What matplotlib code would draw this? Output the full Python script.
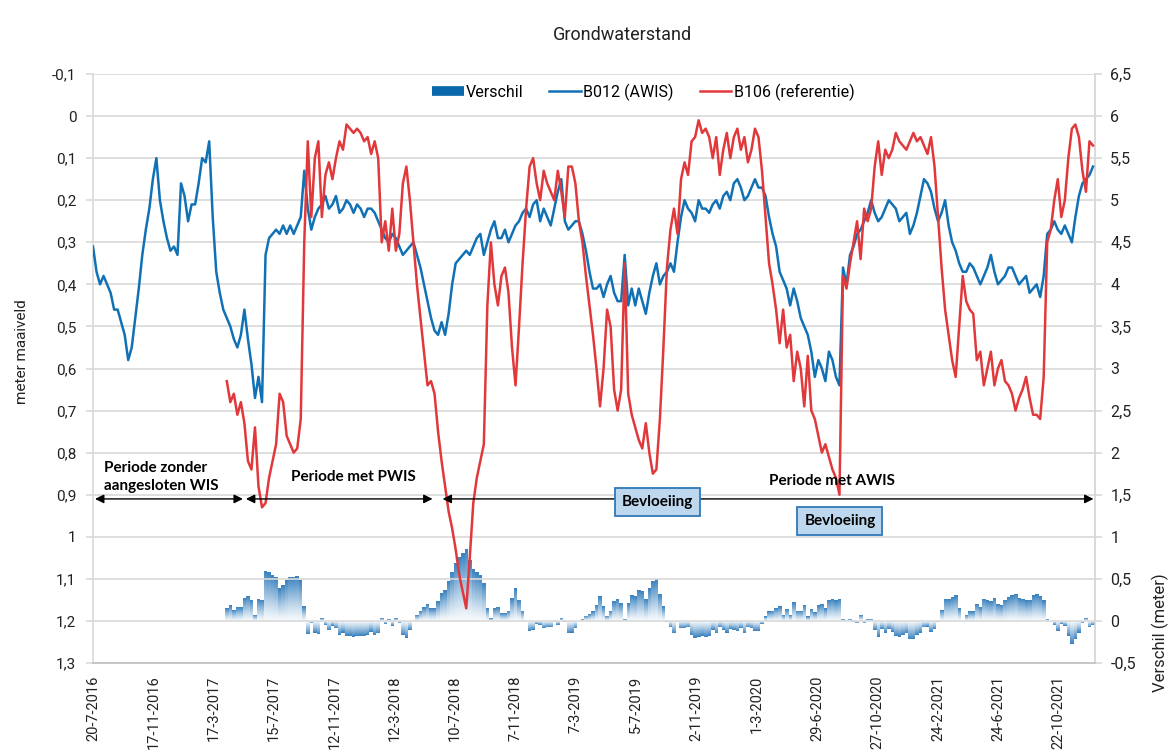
import numpy as np
import pandas as pd
import matplotlib
matplotlib.use('Agg')
import matplotlib.pyplot as plt
import matplotlib.dates as mdates
from matplotlib.lines import Line2D
from matplotlib.ticker import FuncFormatter

plt.rcParams['font.family'] = ['Roboto', 'DejaVu Sans']

# weekly readings, meter below surface (maaiveld)
b012_start = '2016-07-20'
b012 = [0.31, 0.37, 0.40, 0.38, 0.40, 0.42, 0.46, 0.46, 0.49, 0.52,
        0.58, 0.55, 0.48, 0.41, 0.33, 0.27, 0.22, 0.15, 0.10, 0.20,
        0.25, 0.29, 0.32, 0.31, 0.33, 0.16, 0.19, 0.25, 0.21, 0.21,
        0.16, 0.10, 0.11, 0.06, 0.24, 0.37, 0.42, 0.46, 0.48, 0.50,
        0.53, 0.55, 0.52, 0.46, 0.53, 0.59, 0.67, 0.62, 0.68, 0.33,
        0.29, 0.28, 0.27, 0.28, 0.26, 0.28, 0.26, 0.28, 0.26, 0.24,
        0.13, 0.22, 0.27, 0.24, 0.22, 0.21, 0.19, 0.22, 0.21, 0.19,
        0.23, 0.22, 0.20, 0.21, 0.23, 0.21, 0.22, 0.24, 0.22, 0.22,
        0.23, 0.25, 0.27, 0.29, 0.30, 0.28, 0.29, 0.31, 0.33, 0.32,
        0.31, 0.30, 0.33, 0.36, 0.40, 0.44, 0.48, 0.51, 0.52, 0.49,
        0.52, 0.47, 0.40, 0.35, 0.34, 0.33, 0.32, 0.33, 0.31, 0.29,
        0.28, 0.33, 0.30, 0.27, 0.25, 0.29, 0.29, 0.27, 0.30, 0.28,
        0.26, 0.25, 0.23, 0.22, 0.24, 0.21, 0.20, 0.25, 0.22, 0.24,
        0.26, 0.22, 0.18, 0.15, 0.25, 0.27, 0.26, 0.25, 0.25, 0.28,
        0.32, 0.37, 0.41, 0.41, 0.40, 0.43, 0.40, 0.38, 0.42, 0.44,
        0.44, 0.33, 0.45, 0.41, 0.45, 0.41, 0.44, 0.47, 0.42, 0.38,
        0.35, 0.40, 0.38, 0.37, 0.35, 0.37, 0.30, 0.24, 0.20, 0.22,
        0.23, 0.25, 0.20, 0.22, 0.22, 0.23, 0.21, 0.20, 0.22, 0.19,
        0.18, 0.20, 0.16, 0.15, 0.17, 0.20, 0.19, 0.17, 0.15, 0.17,
        0.17, 0.19, 0.24, 0.28, 0.31, 0.37, 0.39, 0.41, 0.45, 0.41,
        0.44, 0.48, 0.50, 0.52, 0.56, 0.62, 0.58, 0.60, 0.63, 0.56,
        0.58, 0.62, 0.64, 0.36, 0.40, 0.33, 0.31, 0.28, 0.27, 0.25,
        0.23, 0.20, 0.23, 0.25, 0.24, 0.22, 0.20, 0.21, 0.22, 0.25,
        0.24, 0.23, 0.28, 0.26, 0.23, 0.19, 0.15, 0.16, 0.18, 0.22,
        0.25, 0.23, 0.20, 0.26, 0.30, 0.32, 0.35, 0.37, 0.37, 0.35,
        0.36, 0.38, 0.40, 0.38, 0.36, 0.33, 0.37, 0.40, 0.39, 0.38,
        0.36, 0.36, 0.38, 0.40, 0.39, 0.38, 0.42, 0.41, 0.40, 0.43,
        0.38, 0.28, 0.27, 0.25, 0.27, 0.28, 0.26, 0.28, 0.30, 0.24,
        0.19, 0.16, 0.15, 0.14, 0.12]

b106_start = '2017-04-12'
b106 = [0.63, 0.68, 0.66, 0.71, 0.68, 0.73, 0.82, 0.84, 0.74, 0.88,
        0.93, 0.92, 0.86, 0.82, 0.78, 0.66, 0.68, 0.76, 0.78, 0.80,
        0.79, 0.72, 0.30, 0.06, 0.24, 0.10, 0.06, 0.24, 0.14, 0.11,
        0.15, 0.10, 0.06, 0.08, 0.02, 0.03, 0.04, 0.03, 0.04, 0.06,
        0.05, 0.09, 0.06, 0.10, 0.30, 0.25, 0.32, 0.22, 0.32, 0.28,
        0.16, 0.12, 0.20, 0.30, 0.40, 0.48, 0.56, 0.64, 0.63, 0.66,
        0.75, 0.82, 0.88, 0.94, 0.98, 1.03, 1.09, 1.13, 1.17, 1.05,
        0.92, 0.86, 0.82, 0.78, 0.45, 0.30, 0.40, 0.45, 0.38, 0.36,
        0.42, 0.55, 0.64, 0.50, 0.35, 0.22, 0.12, 0.10, 0.16, 0.20,
        0.13, 0.16, 0.18, 0.20, 0.13, 0.18, 0.24, 0.12, 0.12, 0.16,
        0.25, 0.30, 0.38, 0.45, 0.52, 0.60, 0.69, 0.60, 0.46, 0.50,
        0.65, 0.70, 0.65, 0.35, 0.66, 0.71, 0.74, 0.77, 0.79, 0.73,
        0.80, 0.85, 0.84, 0.72, 0.55, 0.36, 0.27, 0.22, 0.28, 0.15,
        0.11, 0.14, 0.06, 0.05, 0.01, 0.04, 0.03, 0.05, 0.10, 0.05,
        0.14, 0.08, 0.04, 0.10, 0.05, 0.03, 0.08, 0.05, 0.11, 0.08,
        0.03, 0.05, 0.13, 0.24, 0.35, 0.40, 0.46, 0.54, 0.46, 0.55,
        0.52, 0.63, 0.56, 0.60, 0.69, 0.57, 0.70, 0.72, 0.76, 0.80,
        0.78, 0.81, 0.84, 0.86, 0.90, 0.38, 0.41, 0.35, 0.30, 0.25,
        0.34, 0.22, 0.25, 0.22, 0.12, 0.06, 0.14, 0.08, 0.10, 0.08,
        0.04, 0.06, 0.07, 0.08, 0.06, 0.04, 0.06, 0.05, 0.07, 0.09,
        0.05, 0.12, 0.24, 0.36, 0.46, 0.52, 0.58, 0.62, 0.50, 0.38,
        0.44, 0.46, 0.47, 0.58, 0.56, 0.64, 0.60, 0.56, 0.64, 0.60,
        0.58, 0.63, 0.64, 0.66, 0.70, 0.67, 0.65, 0.62, 0.67, 0.71,
        0.71, 0.72, 0.62, 0.30, 0.27, 0.20, 0.15, 0.24, 0.20, 0.10,
        0.03, 0.02, 0.05, 0.13, 0.18, 0.06, 0.07]

x_start = '2016-07-20'
x_end = '2022-01-02'
periods = [('2016-07-24', '2017-05-14'), ('2017-05-20', '2018-05-26'), ('2018-06-15', '2021-12-30')]

c_blue = '#1171b5'
c_red = '#e1393b'
c_bar = (0.13, 0.45, 0.72)

s_blue = pd.Series(b012, index=pd.date_range(b012_start, periods=len(b012), freq='7D'))
s_red = pd.Series(b106, index=pd.date_range(b106_start, periods=len(b106), freq='7D'))
verschil = (s_red - s_blue).dropna()


def to_left(r):
    return 1.2 - 0.2 * np.asarray(r)


def to_right(y):
    return (1.2 - np.asarray(y)) / 0.2


def comma(v, pos=None):
    v = round(v, 2)
    if abs(v) < 1e-9:
        return '0'
    return ('%g' % v).replace('.', ',')


fig = plt.figure(figsize=(11.76, 7.56), dpi=100)
ax = fig.add_axes([93 / 1176, 1 - 663 / 756, 1002 / 1176, 589 / 756])

# verschil as bars, each shaded from pale at the base to blue at the tip
rr = np.linspace(-0.5, 1.0, 451)
rc = (rr[:-1] + rr[1:]) / 2
v = np.repeat(verschil.values, 7)
t = rc[:, None] / np.where(v == 0, 1e-6, v)[None, :]
inside = (t >= 0) & (t <= 1)
rgba = np.zeros((len(rc), len(v), 4))
rgba[..., 0], rgba[..., 1], rgba[..., 2] = c_bar
rgba[..., 3] = np.where(inside, 0.04 + 0.86 * np.clip(t, 0, 1) ** 1.2, 0)
xn = mdates.date2num(verschil.index)
ax.imshow(rgba, extent=(xn[0] - 3.5, xn[-1] + 3.5, to_left(-0.5), to_left(1.0)),
          origin='lower', aspect='auto', interpolation='nearest', zorder=1)

ax.plot(s_blue.index, s_blue.values, color=c_blue, lw=1.8, zorder=3)
ax.plot(s_red.index, s_red.values, color=c_red, lw=1.8, zorder=4)

ax.set_xlim(pd.Timestamp(x_start), pd.Timestamp(x_end))
ax.set_ylim(1.3, -0.1)
ax.set_yticks(np.round(np.arange(-1, 14) / 10, 1))
ax.yaxis.set_major_formatter(FuncFormatter(comma))
ticks = pd.date_range(x_start, x_end, freq='120D')
ax.set_xticks(ticks)
ax.set_xticklabels([f'{d.day}-{d.month}-{d.year}' for d in ticks], rotation=90)
ax.yaxis.grid(True, color='#d9d9d9', lw=1.2)
ax.set_axisbelow('line')
ax.spines['top'].set_visible(False)
for s in ['left', 'right']:
    ax.spines[s].set_color('#d9d9d9')
    ax.spines[s].set_linewidth(1.2)
ax.spines['bottom'].set_color('#bfbfbf')
ax.spines['bottom'].set_linewidth(1.2)
ax.tick_params(axis='y', length=5, color='#d9d9d9', width=1.2, pad=7, labelsize=11, labelcolor='#222222')
ax.tick_params(axis='x', length=0, pad=9, labelsize=10.5, labelcolor='#222222')

sec = ax.secondary_yaxis('right', functions=(to_right, to_left))
sec.set_yticks(np.round(np.arange(-5, 66, 5) / 10, 1))
sec.yaxis.set_major_formatter(FuncFormatter(comma))
sec.tick_params(length=5, color='#d9d9d9', width=1.2, pad=6, labelsize=11.5, labelcolor='#222222')
sec.spines['right'].set_color('#d9d9d9')
sec.spines['right'].set_linewidth(1.2)

handles = [Line2D([], [], color='#0b68ad', lw=7, solid_capstyle='butt'),
           Line2D([], [], color=c_blue, lw=1.8),
           Line2D([], [], color=c_red, lw=1.8)]
ax.legend(handles, ['Verschil', 'B012 (AWIS)', 'B106 (referentie)'], loc='center',
          bbox_to_anchor=(0.549, 0.969), ncol=3, frameon=False, fontsize=11.5,
          handlelength=2.0, handletextpad=0.15, columnspacing=1.6)

# periods
for a, b in periods:
    ax.annotate('', xy=(mdates.date2num(pd.Timestamp(b)), 0.91),
                xytext=(mdates.date2num(pd.Timestamp(a)), 0.91),
                arrowprops=dict(arrowstyle='<|-|>', color='black', lw=1.0,
                                mutation_scale=13, shrinkA=0, shrinkB=0), zorder=5)

bold = dict(family=['Lato', 'DejaVu Sans'], fontweight='bold', fontsize=11, zorder=6)
ax.text(mdates.date2num(pd.Timestamp('2016-08-11')), 0.895, 'Periode zonder\naangesloten WIS',
        ha='left', va='bottom', linespacing=1.35, **bold)
ax.text(mdates.date2num(pd.Timestamp('2017-12-19')), 0.875, 'Periode met PWIS',
        ha='center', va='bottom', **bold)
ax.text(mdates.date2num(pd.Timestamp('2020-07-28')), 0.885, 'Periode met AWIS',
        ha='center', va='bottom', **bold)
box = dict(boxstyle='square,pad=0.45', fc='#bdd7ee', ec='#2f78b8', lw=1.3)
ax.text(mdates.date2num(pd.Timestamp('2019-08-16')), 0.918, 'Bevloeiing',
        ha='center', va='center', bbox=box, **bold)
ax.text(mdates.date2num(pd.Timestamp('2020-08-13')), 0.963, 'Bevloeiing',
        ha='center', va='center', bbox=box, **bold)

fig.text(622 / 1176, 1 - 35 / 756, 'Grondwaterstand', ha='center', va='center',
         fontsize=13, color='#222222')
fig.text(22 / 1176, 1 - 352 / 756, 'meter maaiveld', rotation=90, ha='center', va='center',
         fontsize=11, color='#222222')
fig.text(1160 / 1176, 1 - 633 / 756, 'Verschil (meter)', rotation=90, ha='center', va='center',
         fontsize=12, color='#222222')

fig.savefig('out.png', dpi=100)
